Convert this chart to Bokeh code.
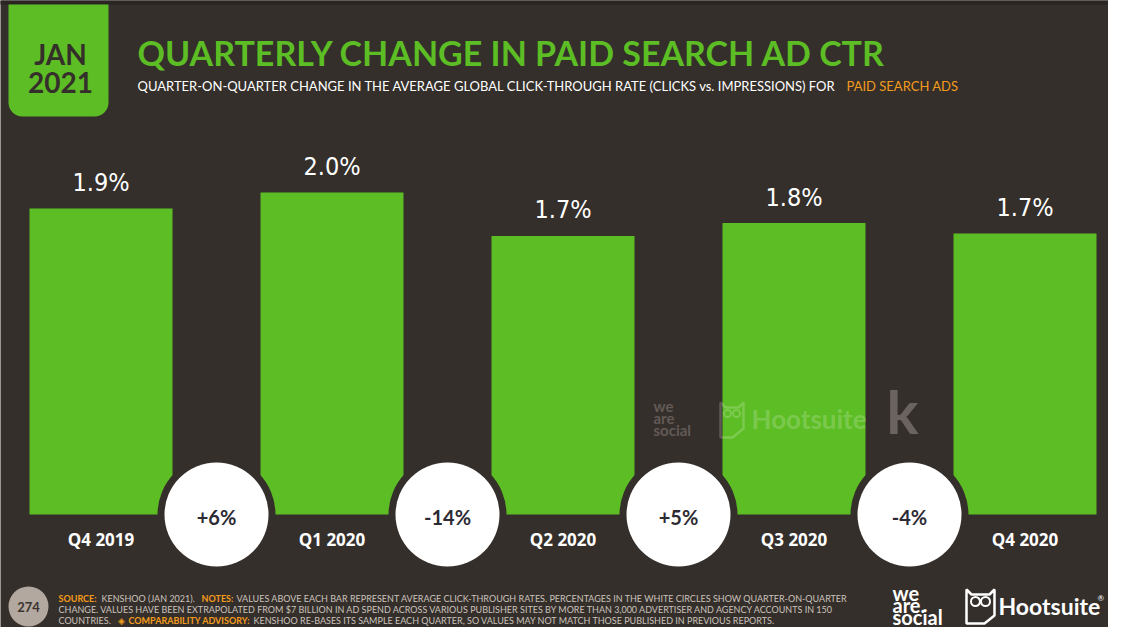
from bokeh.plotting import figure
from bokeh.models import Range1d, ColumnDataSource, Label, BoxAnnotation
from bokeh.core.properties import value
from bokeh.embed import file_html
from bokeh.resources import INLINE

# ---------------- data ----------------
quarters = ["Q4 2019", "Q1 2020", "Q2 2020", "Q3 2020", "Q4 2020"]
ctr_values = [1.90, 2.00, 1.73, 1.81, 1.745]
ctr_labels = ["1.9%", "2.0%", "1.7%", "1.8%", "1.7%"]
qoq_labels = ["+6%", "-14%", "+5%", "-4%"]

# ---------------- style ----------------
BG = "#352f2b"
GREEN = "#5cbd24"
ORANGE = "#f39c1c"
FOOT = "#cbc3bc"
DARKTXT = "#2c2a33"
COND = "DejaVu Sans Condensed"

W, H = 1108, 627
UX, UY = 231.0, 161.0
XS = -100.5 / UX
YS = -(H - 514) / UY

def dx(px):
    return XS + px / UX

def dy(py):
    return YS + (H - py) / UY

p = figure(width=W, height=H, x_range=Range1d(XS, XS + W / UX),
           y_range=Range1d(YS, YS + H / UY), min_border=0,
           x_axis_location=None, y_axis_location=None,
           toolbar_location=None, output_backend="svg")
p.grid.visible = False
p.outline_line_color = None
p.background_fill_color = BG
p.border_fill_color = BG

xs = list(range(len(quarters)))
src = ColumnDataSource(dict(x=xs, ctr=ctr_values, lab=ctr_labels, cat=quarters))
csrc = ColumnDataSource(dict(cx=[i + 0.5 for i in range(len(qoq_labels))],
                             cy=[0] * len(qoq_labels), lab=qoq_labels))

# top darker strip
p.add_layout(BoxAnnotation(left=dx(-10), right=dx(1200), top=dy(-10), bottom=dy(4),
                           fill_color="#2a2522", fill_alpha=1, line_color=None))

# bars
p.vbar(x="x", top="ctr", bottom=0, width=143 / UX, source=src,
       fill_color=GREEN, line_color=None)

# value labels
p.text(x="x", y="ctr", text="lab", source=src, y_offset=-26,
       text_align="center", text_baseline="middle", text_color="white",
       text_font=value(COND), text_font_size="25px")

# category labels
p.text(x="x", y=0, text="cat", source=src, y_offset=25,
       text_align="center", text_baseline="middle", text_color="white",
       text_font=value("Open Sans"), text_font_style="bold", text_font_size="17px")

# change circles
p.scatter(x="cx", y="cy", source=csrc, size=118, fill_color=BG, line_color=None)
p.scatter(x="cx", y="cy", source=csrc, size=104, fill_color="white", line_color=None)
p.text(x="cx", y="cy", text="lab", source=csrc, y_offset=2,
       text_align="center", text_baseline="middle", text_color=DARKTXT,
       text_font=value("Lato"), text_font_style="bold", text_font_size="20px")

# ---------------- header ----------------
p.add_layout(BoxAnnotation(left=dx(8), right=dx(108), top=dy(4), bottom=dy(116),
                           fill_color=GREEN, fill_alpha=1, line_color=None,
                           border_radius=(0, 0, 14, 14)))

def lab(x, y, text, size, color, font="Lato", style="normal", align="left",
        baseline="middle", alpha=1.0):
    p.add_layout(Label(x=dx(x), y=dy(y), text=text, text_font=font,
                       text_font_size=f"{size}px", text_font_style=style,
                       text_color=color, text_align=align,
                       text_baseline=baseline, text_alpha=alpha))

lab(60, 53, "JAN", 28, BG, style="bold", align="center")
lab(60, 82, "2021", 28, BG, style="bold", align="center")
lab(137, 52, "QUARTERLY CHANGE IN PAID SEARCH AD CTR", 34, GREEN, style="bold")
lab(137, 85, "QUARTER-ON-QUARTER CHANGE IN THE AVERAGE GLOBAL CLICK-THROUGH RATE "
    "(CLICKS vs. IMPRESSIONS) FOR", 13, "white")
lab(846, 85, "PAID SEARCH ADS", 13, ORANGE)

# ---------------- watermark ----------------
WM = "#625a56"
lab(653, 405, "we", 15, WM, style="bold")
lab(653, 417, "are", 15, WM, style="bold")
lab(653, 429, "social", 15, WM, style="bold")
p.patch([dx(v) for v in [720, 725, 738, 743, 743, 732, 720]],
        [dy(v) for v in [402, 407, 407, 402, 428, 437, 437]],
        fill_color=None, line_color="white", line_alpha=0.2, line_width=2.5)
p.scatter(x=[dx(727), dx(736)], y=[dy(413), dy(413)], size=7,
          fill_color=None, line_color="white", line_alpha=0.2, line_width=2)
lab(751, 418, "Hootsuite", 26, "white", style="bold", alpha=0.2)
lab(886, 410, "k", 60, "#6b6360", style="bold")

# ---------------- footer ----------------
p.scatter(x=[dx(28)], y=[dy(606)], size=40, fill_color="#b3a89f", line_color=None)
lab(28, 606, "274", 13, "#3b3431", style="bold", align="center")

foot = [
    (58, 598, "SOURCE:", ORANGE, "bold"),
    (101, 598, "KENSHOO (JAN 2021).", FOOT, "normal"),
    (201, 598, "NOTES:", ORANGE, "bold"),
    (236, 598, "VALUES ABOVE EACH BAR REPRESENT AVERAGE CLICK-THROUGH RATES. "
               "PERCENTAGES IN THE WHITE CIRCLES SHOW QUARTER-ON-QUARTER", FOOT, "normal"),
    (58, 609, "CHANGE. VALUES HAVE BEEN EXTRAPOLATED FROM $7 BILLION IN AD SPEND ACROSS "
              "VARIOUS PUBLISHER SITES BY MORE THAN 3,000 ADVERTISER AND AGENCY ACCOUNTS IN 150",
     FOOT, "normal"),
    (58, 620, "COUNTRIES.", FOOT, "normal"),
    (117, 620, "\u25c8", ORANGE, "normal"),
    (128, 620, "COMPARABILITY ADVISORY:", ORANGE, "bold"),
    (253, 620, "KENSHOO RE-BASES ITS SAMPLE EACH QUARTER, SO VALUES MAY NOT MATCH "
               "THOSE PUBLISHED IN PREVIOUS REPORTS.", FOOT, "normal"),
]
for x, y, t, c, s in foot:
    lab(x, y, t, 9, c, style=s)

lab(892, 592, "we", 20, "white", style="bold")
lab(892, 604, "are.", 20, "white", style="bold")
lab(892, 616, "social", 20, "white", style="bold")
p.patch([dx(v) for v in [966, 971, 989, 994, 994, 984, 966]],
        [dy(v) for v in [589, 594, 594, 589, 615, 623, 623]],
        fill_color=None, line_color="white", line_width=2.5)
p.scatter(x=[dx(975), dx(985)], y=[dy(601), dy(601)], size=9,
          fill_color=None, line_color="white", line_width=2)
lab(998, 605, "Hootsuite", 23, "white", style="bold")
lab(1097, 597, "\u00ae", 8, "white")

open("out.html", "w").write(file_html(p, INLINE))
